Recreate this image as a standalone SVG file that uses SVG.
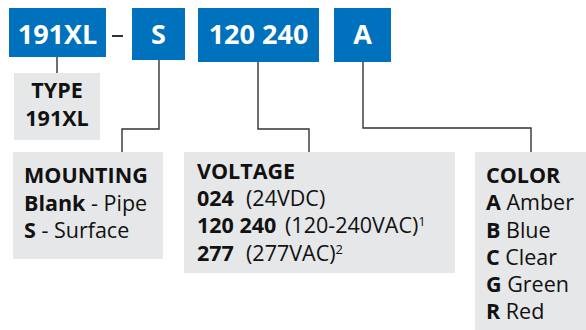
<svg xmlns="http://www.w3.org/2000/svg" width="586" height="330" viewBox="0 0 586 330">
<style>
.code{fill:#0071bc}
.panel{fill:#e6e7e8}
.ct{font-family:"Open Sans","Noto Sans",sans-serif;font-weight:700;font-size:27px;fill:#fff;text-anchor:middle}
.t{font-family:"Open Sans","Noto Sans",sans-serif;font-size:21.5px;fill:#111}
.b{font-weight:700}
.conn{fill:none;stroke:#333;stroke-width:1.4}
</style>
<rect width="586" height="330" fill="#fff"/>
<g id="code-191xl"><rect class="code" x="9" y="8" width="97" height="49"/><text class="ct" x="57.5" y="44">191XL</text></g>
<g id="dash"><rect x="112" y="35" width="11" height="2" fill="#333"/></g>
<g id="code-s"><rect class="code" x="132" y="8" width="53" height="52"/><text class="ct" x="158.5" y="44">S</text></g>
<g id="code-voltage"><rect class="code" x="198" y="8" width="121" height="54"/><text class="ct" x="258.5" y="44">120 240</text></g>
<g id="code-a"><rect class="code" x="334" y="8" width="57" height="54"/><text class="ct" x="362.5" y="44">A</text></g>
<g id="connectors">
<path class="conn" d="M57 57V73"/>
<path class="conn" d="M159 60V129H122V152"/>
<path class="conn" d="M258 62V129H309V152"/>
<path class="conn" d="M363 62V128H531V152"/>
</g>
<g id="type"><rect class="panel" x="14" y="73" width="86" height="67"/>
<text class="t b" x="57" y="98" text-anchor="middle">TYPE</text>
<text class="t b" x="57" y="126" text-anchor="middle">191XL</text></g>
<g id="mounting"><rect class="panel" x="13" y="152" width="150" height="107"/>
<text class="t b" x="24" y="183">MOUNTING</text>
<text class="t" x="24" y="211"><tspan class="b">Blank</tspan> - Pipe</text>
<text class="t" x="24" y="238"><tspan class="b">S</tspan> - Surface</text></g>
<g id="voltage"><rect class="panel" x="184" y="152" width="271" height="121"/>
<text class="t b" x="197" y="179">VOLTAGE</text>
<text class="t" x="197" y="206"><tspan class="b">024</tspan><tspan x="246">(24VDC)</tspan></text>
<text class="t" x="197" y="233"><tspan class="b">120 240</tspan><tspan x="285">(120-240VAC)</tspan><tspan font-size="13" dy="-7">1</tspan></text>
<text class="t" x="197" y="261"><tspan class="b">277</tspan><tspan x="246">(277VAC)</tspan><tspan font-size="13" dy="-7">2</tspan></text></g>
<g id="color"><rect class="panel" x="475" y="152" width="111" height="178"/>
<text class="t b" x="486" y="183">COLOR</text>
<text class="t" x="486" y="210"><tspan class="b">A</tspan> Amber</text>
<text class="t" x="486" y="238"><tspan class="b">B</tspan> Blue</text>
<text class="t" x="486" y="265"><tspan class="b">C</tspan> Clear</text>
<text class="t" x="486" y="292"><tspan class="b">G</tspan> Green</text>
<text class="t" x="486" y="319"><tspan class="b">R</tspan> Red</text></g>
</svg>
